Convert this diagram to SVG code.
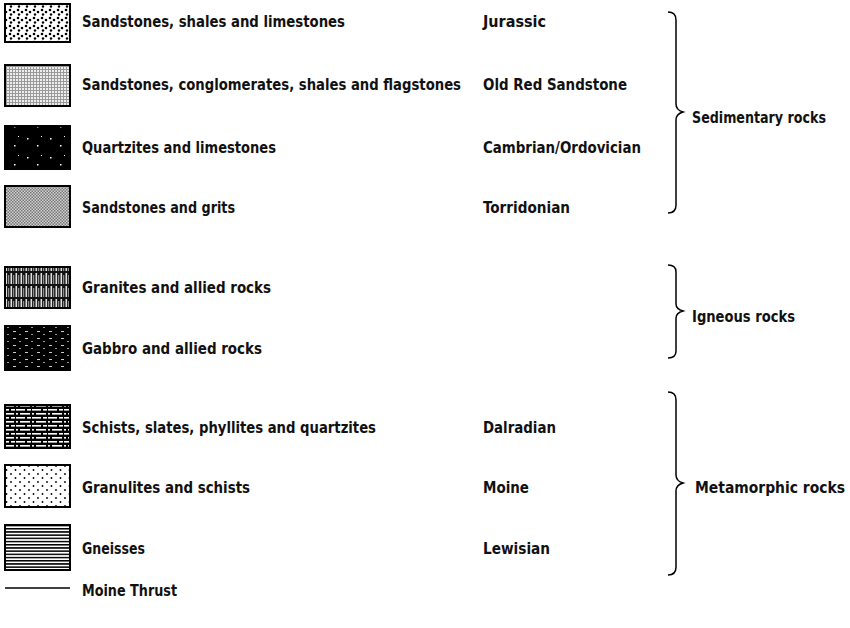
<svg xmlns="http://www.w3.org/2000/svg" width="850" height="628" viewBox="0 0 850 628">
<defs>
<style>
text{font-family:"Liberation Sans Narrow","DejaVu Sans Condensed","Liberation Sans",sans-serif;font-size:15px;font-weight:bold;fill:#111}
.sw{stroke:#000;stroke-width:2}
.br{fill:none;stroke:#000;stroke-width:1.5}
</style>
<pattern id="pDots" width="8" height="8" patternUnits="userSpaceOnUse">
<rect width="8" height="8" fill="#fff"/>
<circle cx="2" cy="2" r="1.3" fill="#000"/><circle cx="6" cy="4" r="1.3" fill="#000"/><circle cx="3" cy="6.5" r="1.2" fill="#000"/>
</pattern>
<pattern id="pGrid" width="3" height="3" patternUnits="userSpaceOnUse">
<rect width="3" height="3" fill="#9a9a9a"/><rect x="1" y="1" width="2" height="2" fill="#eee"/>
</pattern>
<pattern id="pQuartz" width="23" height="19" patternUnits="userSpaceOnUse">
<rect width="23" height="19" fill="#000"/>
<rect x="4" y="5" width="1.5" height="1.5" fill="#fff"/><rect x="14" y="12" width="1.5" height="1.5" fill="#fff"/><rect x="18" y="3" width="1" height="1" fill="#fff"/>
</pattern>
<pattern id="pCheck" width="3" height="3" patternUnits="userSpaceOnUse">
<rect width="3" height="3" fill="#d0d0d0"/><rect width="1.5" height="1.5" fill="#777"/><rect x="1.5" y="1.5" width="1.5" height="1.5" fill="#777"/>
</pattern>
<pattern id="pGranite" width="5" height="13" patternUnits="userSpaceOnUse">
<rect width="5" height="13" fill="#111"/><rect x="0.5" y="0" width="1.6" height="11" fill="#e0e0e0"/><rect x="3.2" y="2" width="1" height="9" fill="#aaa"/>
</pattern>
<pattern id="pGabbro" width="12" height="7" patternUnits="userSpaceOnUse">
<rect width="12" height="7" fill="#000"/><rect x="1" y="2" width="3" height="1" fill="#ccc"/><rect x="7" y="5" width="2" height="1" fill="#999"/>
</pattern>
<pattern id="pSchist" width="16" height="8" patternUnits="userSpaceOnUse">
<rect width="16" height="8" fill="#000"/>
<rect x="0" y="1" width="9" height="1.6" fill="#fff"/><rect x="11" y="1" width="4" height="1.6" fill="#fff"/>
<rect x="4" y="5" width="10" height="1.6" fill="#fff"/><rect x="0" y="5" width="2" height="1.6" fill="#fff"/>
</pattern>
<pattern id="pSparse" width="9" height="8" patternUnits="userSpaceOnUse">
<rect width="9" height="8" fill="#fff"/><circle cx="2" cy="2" r="0.9" fill="#000"/><circle cx="6.5" cy="6" r="0.9" fill="#000"/>
</pattern>
<pattern id="pGneiss" width="4" height="3.2" patternUnits="userSpaceOnUse">
<rect width="4" height="3.2" fill="#fff"/><rect y="0" width="4" height="1.5" fill="#000"/>
</pattern>
</defs>

<g id="jurassic"><rect class="sw" x="5" y="4" width="65" height="38" fill="url(#pDots)"/><text x="82" y="27" textLength="263" lengthAdjust="spacingAndGlyphs">Sandstones, shales and limestones</text><text x="483" y="27" textLength="63" lengthAdjust="spacingAndGlyphs">Jurassic</text></g>
<g id="oldred"><rect class="sw" x="5" y="65" width="65" height="41" fill="url(#pGrid)"/><text x="82" y="90" textLength="379" lengthAdjust="spacingAndGlyphs">Sandstones, conglomerates, shales and flagstones</text><text x="483" y="90" textLength="144" lengthAdjust="spacingAndGlyphs">Old Red Sandstone</text></g>
<g id="cambrian"><rect class="sw" x="5" y="126" width="65" height="43" fill="url(#pQuartz)"/><text x="82" y="153" textLength="194" lengthAdjust="spacingAndGlyphs">Quartzites and limestones</text><text x="483" y="153" textLength="158" lengthAdjust="spacingAndGlyphs">Cambrian/Ordovician</text></g>
<g id="torridonian"><rect class="sw" x="5" y="186" width="65" height="41" fill="url(#pCheck)"/><text x="82" y="213" textLength="153" lengthAdjust="spacingAndGlyphs">Sandstones and grits</text><text x="483" y="213" textLength="87" lengthAdjust="spacingAndGlyphs">Torridonian</text></g>
<g id="granite"><rect class="sw" x="5" y="267" width="65" height="41" fill="url(#pGranite)"/><text x="82" y="293" textLength="189" lengthAdjust="spacingAndGlyphs">Granites and allied rocks</text></g>
<g id="gabbro"><rect class="sw" x="5" y="326" width="65" height="44" fill="url(#pGabbro)"/><text x="82" y="354" textLength="180" lengthAdjust="spacingAndGlyphs">Gabbro and allied rocks</text></g>
<g id="dalradian"><rect class="sw" x="5" y="405" width="65" height="43" fill="url(#pSchist)"/><text x="82" y="433" textLength="294" lengthAdjust="spacingAndGlyphs">Schists, slates, phyllites and quartzites</text><text x="483" y="433" textLength="73" lengthAdjust="spacingAndGlyphs">Dalradian</text></g>
<g id="moine"><rect class="sw" x="5" y="465" width="65" height="42" fill="url(#pSparse)"/><text x="82" y="493" textLength="168" lengthAdjust="spacingAndGlyphs">Granulites and schists</text><text x="483" y="493" textLength="46" lengthAdjust="spacingAndGlyphs">Moine</text></g>
<g id="lewisian"><rect class="sw" x="5" y="525" width="65" height="45" fill="url(#pGneiss)"/><text x="82" y="554" textLength="63" lengthAdjust="spacingAndGlyphs">Gneisses</text><text x="483" y="554" textLength="67" lengthAdjust="spacingAndGlyphs">Lewisian</text></g>
<g id="thrust"><line x1="5" y1="588" x2="70" y2="588" stroke="#000" stroke-width="1.5"/><text x="82" y="596" textLength="95" lengthAdjust="spacingAndGlyphs">Moine Thrust</text></g>

<g id="braces">
<path class="br" d="M668,12 Q676,12 676,20 L676,104 Q676,110 683,112 Q676,114 676,120 L676,205 Q676,213 668,213"/>
<text x="692" y="123" textLength="134" lengthAdjust="spacingAndGlyphs">Sedimentary rocks</text>
<path class="br" d="M668,265 Q676,265 676,272 L676,304 Q676,309 683,311 Q676,313 676,318 L676,351 Q676,358 668,358"/>
<text x="692" y="322" textLength="103" lengthAdjust="spacingAndGlyphs">Igneous rocks</text>
<path class="br" d="M668,392 Q676,392 676,400 L676,475 Q676,481 683,483 Q676,485 676,491 L676,567 Q676,575 668,575"/>
<text x="695" y="493" textLength="150" lengthAdjust="spacingAndGlyphs">Metamorphic  rocks</text>
</g>
</svg>
